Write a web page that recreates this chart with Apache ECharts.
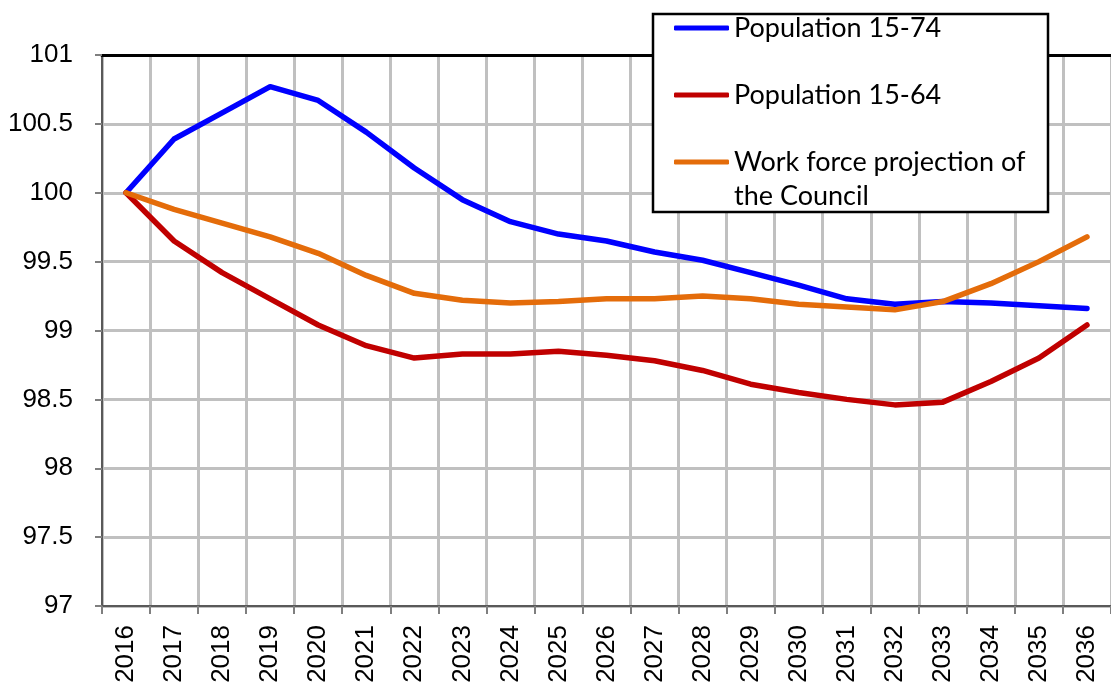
<!DOCTYPE html>
<html>
<head>
<meta charset="utf-8">
<script src="https://cdn.jsdelivr.net/npm/echarts@6/dist/echarts.min.js"></script>
<style>
html, body { margin: 0; padding: 0; background: #fff; }
#chart { width: 1111px; height: 686px; }
</style>
</head>
<body>
<div id="chart"></div>
<script>
var years = ['2016', '2017', '2018', '2019', '2020', '2021', '2022', '2023', '2024', '2025', '2026',
	'2027', '2028', '2029', '2030', '2031', '2032', '2033', '2034', '2035', '2036'];
var pop1574 = [100.00, 100.39, 100.58, 100.77, 100.67, 100.44, 100.18, 99.95, 99.79, 99.70, 99.65,
	99.57, 99.51, 99.42, 99.33, 99.23, 99.19, 99.21, 99.20, 99.18, 99.16];
var pop1564 = [100.00, 99.65, 99.42, 99.23, 99.04, 98.89, 98.80, 98.83, 98.83, 98.85, 98.82,
	98.78, 98.71, 98.61, 98.55, 98.50, 98.46, 98.48, 98.63, 98.80, 99.04];
var workforce = [100.00, 99.88, 99.78, 99.68, 99.56, 99.40, 99.27, 99.22, 99.20, 99.21, 99.23,
	99.23, 99.25, 99.23, 99.19, 99.17, 99.15, 99.21, 99.34, 99.50, 99.68];
var names = ['Population 15-74', 'Population 15-64', 'Work force projection of the Council'];

var myChart = echarts.init(document.getElementById('chart'));
var axisFont = 'Liberation Sans, Arial, sans-serif';
var legendFont = 'Lato, sans-serif';

function lineSeries(name, data, color) {
	return {
		name: name,
		type: 'line',
		data: data,
		symbol: 'none',
		lineStyle: { color: color, width: 5.5, cap: 'round', join: 'round' },
		itemStyle: { color: color },
		z: 3
	};
}

var legendText = { fontSize: 27, lineHeight: 34, color: '#000', fontFamily: legendFont };

var option = {
	animation: false,
	grid: { left: 102, top: 55, right: -6, bottom: 80 },
	xAxis: [{
		type: 'category',
		data: years,
		boundaryGap: true,
		axisLine: { lineStyle: { color: '#595959', width: 2 } },
		axisTick: { show: true, length: 8, interval: 0, lineStyle: { color: '#7f7f7f', width: 2 } },
		axisLabel: {
			interval: 0,
			rotate: 90,
			margin: 19,
			color: '#000',
			fontSize: 26,
			fontFamily: axisFont
		},
		splitLine: { show: true, interval: 0, lineStyle: { color: '#c0c0c0', width: 3 } }
	}, {
		type: 'category',
		data: years,
		position: 'top',
		axisLine: { lineStyle: { color: '#000', width: 3 } },
		axisTick: { show: false },
		axisLabel: { show: false },
		splitLine: { show: false }
	}],
	yAxis: {
		type: 'value',
		min: 97,
		max: 101,
		interval: 0.5,
		axisLine: { show: true, lineStyle: { color: '#595959', width: 2 } },
		axisTick: { show: true, length: 7, lineStyle: { color: '#7f7f7f', width: 2 } },
		axisLabel: {
			margin: 29,
			color: '#000',
			fontSize: 26,
			fontFamily: axisFont
		},
		splitLine: { show: true, lineStyle: { color: '#c0c0c0', width: 3 } }
	},
	graphic: [{
		type: 'rect',
		z: 50,
		shape: { x: 653, y: 14, width: 395, height: 198 },
		style: { fill: '#fff', stroke: '#000', lineWidth: 2.5 }
	}],
	legend: [{
		z: 60,
		orient: 'vertical',
		left: 674,
		top: 11,
		padding: 0,
		icon: 'roundRect',
		itemWidth: 55,
		itemHeight: 5,
		itemGap: 33,
		data: [names[0], names[1]],
		textStyle: legendText
	}, {
		z: 60,
		orient: 'vertical',
		left: 674,
		top: 111,
		padding: 0,
		icon: 'roundRect',
		itemWidth: 55,
		itemHeight: 5,
		data: [names[2]],
		// blank first line keeps the icon level with the first text line
		formatter: function (n) { return ' \nWork force projection of\nthe Council'; },
		textStyle: legendText
	}],
	series: [
		lineSeries(names[0], pop1574, '#0000ff'),
		lineSeries(names[1], pop1564, '#c00000'),
		lineSeries(names[2], workforce, '#e46c0a')
	]
};
myChart.setOption(option);
</script>
</body>
</html>
